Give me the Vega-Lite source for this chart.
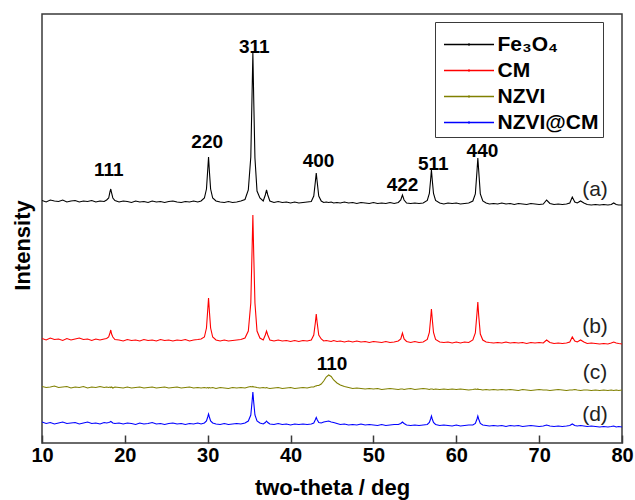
{
  "$schema": "https://vega.github.io/schema/vega-lite/v6.json",
  "width": 580,
  "height": 429,
  "autosize": {"type": "none"},
  "padding": {"left": 42, "top": 14, "right": 13, "bottom": 57},
  "background": "white",
  "config": {
    "view": {"stroke": "#3a3a3a", "strokeWidth": 1.5},
    "font": "Liberation Sans",
    "axis": {"grid": false}
  },
  "layer": [
    {
      "data": {"values": [
        {"x":10,"a":242.5,"b":104.5,"c":56.5,"d":21},
        {"x":10.5,"a":241,"b":103,"c":55.5,"d":19.5},
        {"x":11,"a":243,"b":105,"c":56,"d":20.5},
        {"x":11.5,"a":242,"b":103.5,"c":57,"d":19},
        {"x":12,"a":241.5,"b":104,"c":55.5,"d":20},
        {"x":12.5,"a":243,"b":102.5,"c":56,"d":21},
        {"x":13,"a":241,"b":104.5,"c":56.5,"d":19.5},
        {"x":13.5,"a":242,"b":103,"c":55,"d":20},
        {"x":14,"a":242.5,"b":104,"c":56,"d":20.5},
        {"x":14.5,"a":241,"b":105,"c":55.5,"d":19},
        {"x":15,"a":242,"b":103.5,"c":56.5,"d":20},
        {"x":15.5,"a":241.5,"b":104,"c":55,"d":21},
        {"x":16,"a":242.5,"b":102.5,"c":56,"d":19.5},
        {"x":16.5,"a":241,"b":104,"c":55.5,"d":20},
        {"x":17,"a":242,"b":103,"c":56.5,"d":19},
        {"x":17.5,"a":241.5,"b":104,"c":55.5,"d":20.5},
        {"x":17.8,"a":243,"b":104.5,"c":56,"d":20},
        {"x":18.05,"a":245,"b":106,"c":55.5,"d":20.5},
        {"x":18.2,"a":251,"b":110,"c":56,"d":21},
        {"x":18.3,"a":254,"b":113,"c":55.5,"d":21.5},
        {"x":18.4,"a":250,"b":109,"c":56,"d":21},
        {"x":18.55,"a":245,"b":106,"c":55,"d":20},
        {"x":18.8,"a":242.5,"b":103.5,"c":56,"d":19.5},
        {"x":19.3,"a":241,"b":103,"c":55.5,"d":20},
        {"x":19.8,"a":242,"b":102,"c":55,"d":19},
        {"x":20.3,"a":241.5,"b":103.5,"c":56,"d":20},
        {"x":20.8,"a":240.5,"b":102.5,"c":55,"d":19.5},
        {"x":21.3,"a":242,"b":103,"c":55.5,"d":18.5},
        {"x":21.8,"a":241,"b":102,"c":56,"d":20},
        {"x":22.3,"a":241.5,"b":103.5,"c":55,"d":19},
        {"x":22.8,"a":240.5,"b":102.5,"c":55.5,"d":19.5},
        {"x":23.3,"a":242,"b":103,"c":56,"d":20.5},
        {"x":23.8,"a":241,"b":102,"c":55,"d":19},
        {"x":24.3,"a":241.5,"b":103.5,"c":55.5,"d":19.5},
        {"x":24.8,"a":240.5,"b":102.5,"c":56,"d":18.5},
        {"x":25.3,"a":241.5,"b":103,"c":55,"d":19.5},
        {"x":25.8,"a":242,"b":102,"c":55.5,"d":20},
        {"x":26.3,"a":241,"b":103,"c":56,"d":19},
        {"x":26.8,"a":240.5,"b":102.5,"c":55,"d":19.5},
        {"x":27.3,"a":241.5,"b":103.5,"c":55.5,"d":18.5},
        {"x":27.8,"a":241,"b":102,"c":56,"d":19.5},
        {"x":28.3,"a":242,"b":103,"c":55,"d":19},
        {"x":28.8,"a":241,"b":103.5,"c":55.5,"d":20},
        {"x":29.2,"a":242,"b":104,"c":55,"d":19},
        {"x":29.6,"a":245,"b":106,"c":55.5,"d":20},
        {"x":29.85,"a":254,"b":115,"c":55,"d":22},
        {"x":30.0,"a":273,"b":133,"c":55.5,"d":26},
        {"x":30.1,"a":286,"b":145,"c":55,"d":29},
        {"x":30.2,"a":272,"b":132,"c":55.5,"d":26},
        {"x":30.35,"a":254,"b":115,"c":55,"d":22},
        {"x":30.6,"a":245,"b":106,"c":55.5,"d":20},
        {"x":31.0,"a":242,"b":103,"c":54.5,"d":19},
        {"x":31.5,"a":241,"b":102,"c":55.5,"d":18.5},
        {"x":32,"a":240.5,"b":103,"c":55,"d":19.5},
        {"x":32.5,"a":241.5,"b":102,"c":54.5,"d":18.5},
        {"x":33,"a":240.5,"b":102.5,"c":55.5,"d":19},
        {"x":33.5,"a":241,"b":103,"c":55,"d":19.5},
        {"x":34,"a":242,"b":103.5,"c":55.5,"d":19},
        {"x":34.5,"a":243.5,"b":105,"c":55,"d":20},
        {"x":34.9,"a":253,"b":112,"c":56,"d":22},
        {"x":35.2,"a":286,"b":140,"c":56.5,"d":28},
        {"x":35.35,"a":348,"b":192,"c":56,"d":41},
        {"x":35.45,"a":390,"b":228,"c":56.5,"d":51},
        {"x":35.55,"a":345,"b":190,"c":56,"d":41},
        {"x":35.7,"a":285,"b":140,"c":56,"d":28},
        {"x":35.95,"a":252,"b":112,"c":55.5,"d":22},
        {"x":36.3,"a":245,"b":105,"c":55,"d":20},
        {"x":36.7,"a":242,"b":103,"c":55.5,"d":19},
        {"x":36.95,"a":248,"b":108,"c":55,"d":20.5},
        {"x":37.1,"a":253,"b":112,"c":55.5,"d":22},
        {"x":37.25,"a":248,"b":108,"c":55,"d":20.5},
        {"x":37.5,"a":242,"b":103,"c":54.5,"d":19},
        {"x":38,"a":240.5,"b":102,"c":55,"d":18.5},
        {"x":38.5,"a":241.5,"b":103,"c":55.5,"d":19.5},
        {"x":39,"a":240.5,"b":102,"c":54.5,"d":18.5},
        {"x":39.5,"a":241,"b":102.5,"c":55,"d":19},
        {"x":40,"a":240,"b":101.5,"c":55.5,"d":18},
        {"x":40.5,"a":241,"b":102.5,"c":54.5,"d":19},
        {"x":41,"a":240,"b":101.5,"c":55,"d":18.5},
        {"x":41.5,"a":240.5,"b":102.5,"c":55.5,"d":19},
        {"x":42,"a":241,"b":102,"c":55,"d":18.5},
        {"x":42.5,"a":241.5,"b":103,"c":56,"d":19},
        {"x":42.8,"a":247,"b":108,"c":56,"d":20},
        {"x":43.0,"a":262,"b":121,"c":57,"d":23.5},
        {"x":43.1,"a":270,"b":129,"c":57,"d":25.5},
        {"x":43.2,"a":262,"b":121,"c":57.5,"d":23.5},
        {"x":43.4,"a":247,"b":108,"c":57.5,"d":20.5},
        {"x":43.7,"a":242,"b":104,"c":59,"d":20},
        {"x":44.0,"a":240.5,"b":102,"c":62,"d":21},
        {"x":44.3,"a":241,"b":102.5,"c":66,"d":21.5},
        {"x":44.6,"a":240.5,"b":102,"c":68,"d":22},
        {"x":44.9,"a":241,"b":101.5,"c":66.5,"d":21},
        {"x":45.2,"a":240,"b":102.5,"c":63,"d":20.5},
        {"x":45.6,"a":240.5,"b":101.5,"c":60,"d":19.5},
        {"x":46,"a":240,"b":102,"c":58,"d":18.5},
        {"x":46.5,"a":241,"b":101,"c":56.5,"d":19},
        {"x":47,"a":240,"b":102,"c":55.5,"d":18},
        {"x":47.5,"a":240.5,"b":101,"c":54.5,"d":18.5},
        {"x":48,"a":239.5,"b":102,"c":55,"d":18},
        {"x":48.5,"a":240.5,"b":101,"c":54.5,"d":19},
        {"x":49,"a":240,"b":101.5,"c":54,"d":18},
        {"x":49.5,"a":239.5,"b":100.5,"c":54.5,"d":18.5},
        {"x":50,"a":240.5,"b":101.5,"c":54,"d":18},
        {"x":50.5,"a":239.5,"b":101,"c":54.5,"d":17.5},
        {"x":51,"a":240,"b":100.5,"c":53.5,"d":18.5},
        {"x":51.5,"a":239.5,"b":101.5,"c":54,"d":17.5},
        {"x":52,"a":240.5,"b":100.5,"c":54.5,"d":18},
        {"x":52.5,"a":239.5,"b":101,"c":54,"d":18.5},
        {"x":53.0,"a":240.5,"b":102,"c":53.5,"d":18.5},
        {"x":53.3,"a":243,"b":104,"c":54,"d":19.5},
        {"x":53.5,"a":248,"b":110,"c":54,"d":21},
        {"x":53.7,"a":243,"b":104,"c":53.5,"d":19.5},
        {"x":54.0,"a":240,"b":101.5,"c":54,"d":18},
        {"x":54.5,"a":239.5,"b":100.5,"c":54.5,"d":17.5},
        {"x":55,"a":240,"b":101.5,"c":53.5,"d":18},
        {"x":55.5,"a":239.5,"b":100.5,"c":54,"d":17.5},
        {"x":56,"a":240,"b":101,"c":54.5,"d":18},
        {"x":56.5,"a":242.5,"b":103.5,"c":54,"d":18.5},
        {"x":56.75,"a":249.5,"b":110.5,"c":53.5,"d":20.5},
        {"x":56.9,"a":263,"b":124,"c":54,"d":24},
        {"x":57.0,"a":273,"b":134,"c":54,"d":27},
        {"x":57.1,"a":263,"b":124,"c":54,"d":24},
        {"x":57.25,"a":249.5,"b":110.5,"c":53.5,"d":20.5},
        {"x":57.5,"a":242.5,"b":103.5,"c":54,"d":18.5},
        {"x":58,"a":240,"b":101,"c":53.5,"d":17.5},
        {"x":58.5,"a":239,"b":100.5,"c":54,"d":18},
        {"x":59,"a":240,"b":101,"c":53.5,"d":17.5},
        {"x":59.5,"a":239.5,"b":100,"c":54,"d":17},
        {"x":60,"a":240,"b":101,"c":53.5,"d":18},
        {"x":60.5,"a":239,"b":100,"c":54,"d":17},
        {"x":61,"a":239.5,"b":101,"c":53.5,"d":17.5},
        {"x":61.5,"a":240,"b":100.5,"c":53,"d":18},
        {"x":62.0,"a":242,"b":103,"c":53.5,"d":18},
        {"x":62.3,"a":249,"b":110,"c":54,"d":19.5},
        {"x":62.5,"a":272,"b":130,"c":53.5,"d":24},
        {"x":62.6,"a":285,"b":141,"c":54,"d":27},
        {"x":62.7,"a":273,"b":128,"c":53.5,"d":24},
        {"x":62.9,"a":249,"b":109,"c":53.5,"d":19.5},
        {"x":63.2,"a":242,"b":103,"c":53,"d":18},
        {"x":63.6,"a":240,"b":101,"c":53.5,"d":17.5},
        {"x":64,"a":239,"b":100.5,"c":53,"d":17},
        {"x":64.5,"a":239.5,"b":100,"c":53.5,"d":17.5},
        {"x":65,"a":239,"b":100.5,"c":53,"d":17},
        {"x":65.5,"a":240,"b":100,"c":53.5,"d":17.5},
        {"x":66,"a":239,"b":101,"c":53,"d":16.5},
        {"x":66.5,"a":239.5,"b":100,"c":53.5,"d":17.5},
        {"x":67,"a":238.5,"b":100.5,"c":53,"d":17},
        {"x":67.5,"a":239.5,"b":100,"c":52.5,"d":17.5},
        {"x":68,"a":239,"b":100.5,"c":53.5,"d":16.5},
        {"x":68.5,"a":238.5,"b":99.5,"c":53,"d":17},
        {"x":69,"a":239.5,"b":100.5,"c":52.5,"d":17.5},
        {"x":69.5,"a":239,"b":100,"c":53,"d":17},
        {"x":70,"a":238.5,"b":100.5,"c":53.5,"d":16.5},
        {"x":70.5,"a":239,"b":100,"c":53,"d":17},
        {"x":70.9,"a":243,"b":103,"c":53,"d":18},
        {"x":71.3,"a":239.5,"b":100.5,"c":52.5,"d":17},
        {"x":71.8,"a":238.5,"b":99.5,"c":53,"d":16.5},
        {"x":72.3,"a":239,"b":100,"c":53.5,"d":17},
        {"x":72.8,"a":238.5,"b":99.5,"c":53,"d":16.5},
        {"x":73.3,"a":239,"b":100,"c":52.5,"d":17},
        {"x":73.7,"a":240,"b":101,"c":53,"d":17.5},
        {"x":74.0,"a":246,"b":106,"c":53,"d":19},
        {"x":74.3,"a":241,"b":102,"c":53.5,"d":17.5},
        {"x":74.6,"a":240,"b":101,"c":53,"d":17},
        {"x":75.0,"a":242,"b":103,"c":52.5,"d":17.5},
        {"x":75.4,"a":240,"b":101,"c":53,"d":17},
        {"x":75.8,"a":238.5,"b":99.5,"c":53,"d":16.5},
        {"x":76.3,"a":238,"b":100,"c":52.5,"d":17},
        {"x":76.8,"a":238.5,"b":99.5,"c":53,"d":16.5},
        {"x":77.3,"a":238,"b":99,"c":52.5,"d":16},
        {"x":77.8,"a":238.5,"b":99.5,"c":53,"d":16.5},
        {"x":78.3,"a":238,"b":99,"c":52.5,"d":16},
        {"x":78.7,"a":238.5,"b":100,"c":53,"d":16.5},
        {"x":79.0,"a":240,"b":101,"c":52.5,"d":17},
        {"x":79.3,"a":238.5,"b":100,"c":53,"d":16},
        {"x":79.6,"a":238,"b":99.5,"c":52.5,"d":16.5},
        {"x":80,"a":238,"b":99,"c":53,"d":16}
      ]},
      "transform": [{"fold": ["a", "b", "c", "d"], "as": ["series", "value"]}],
      "mark": {"type": "line", "strokeWidth": 1.1, "clip": true},
      "encoding": {
        "x": {
          "field": "x", "type": "quantitative",
          "scale": {"domain": [10, 80], "nice": false, "zero": false},
          "axis": {
            "values": [10, 20, 30, 40, 50, 60, 70, 80],
            "domain": false,
            "tickSize": -8, "tickWidth": 1.5, "tickColor": "#3a3a3a",
            "labelFont": "Liberation Sans", "labelFontSize": 20, "labelFontWeight": "bold", "labelColor": "#000",
            "labelPadding": 10, "labelFlush": false,
            "title": "two-theta / deg",
            "titleFont": "Liberation Sans", "titleFontSize": 22, "titleFontWeight": "bold", "titleColor": "#000",
            "titleBaseline": "alphabetic", "titleY": 51
          }
        },
        "y": {
          "field": "value", "type": "quantitative",
          "scale": {"domain": [0, 429], "nice": false, "zero": false},
          "axis": {
            "domain": false, "ticks": false, "labels": false,
            "title": "Intensity",
            "titleFont": "Liberation Sans", "titleFontSize": 22, "titleFontWeight": "bold", "titleColor": "#000",
            "titleBaseline": "alphabetic", "titleX": -13, "titleY": 231
          }
        },
        "color": {
          "field": "series", "type": "nominal",
          "scale": {"domain": ["a", "b", "c", "d"], "range": ["#000000", "#ff0000", "#808000", "#0000ff"]},
          "legend": {
            "orient": "none", "legendX": 393, "legendY": 8,
            "title": " ", "titleFontSize": 8, "titlePadding": 0,
            "labelExpr": "{'a':'Fe₃O₄','b':'CM','c':'NZVI','d':'NZVI@CM'}[datum.label]",
            "labelFont": "Liberation Sans", "labelFontSize": 21, "labelFontWeight": "bold", "labelColor": "#000",
            "symbolType": "M-5,0H5M0,-0.25V0.25", "symbolSize": 100, "symbolStrokeWidth": 1.3,
            "symbolOffset": 19.5, "labelOffset": 18,
            "strokeColor": "#3a3a3a", "padding": 4, "rowPadding": 4
          }
        }
      }
    },
    {
      "data": {"values": [
        {"x": 18.05, "y": 267, "t": "111"},
        {"x": 29.94, "y": 295, "t": "220"},
        {"x": 35.62, "y": 390, "t": "311"},
        {"x": 43.37, "y": 276, "t": "400"},
        {"x": 53.51, "y": 252, "t": "422"},
        {"x": 57.23, "y": 273, "t": "511"},
        {"x": 63.16, "y": 286, "t": "440"},
        {"x": 45.0, "y": 73, "t": "110"}
      ]},
      "mark": {"type": "text", "font": "Liberation Sans", "fontSize": 19, "fontWeight": "bold", "color": "#000", "align": "center", "baseline": "alphabetic"},
      "encoding": {
        "x": {"field": "x", "type": "quantitative"},
        "y": {"field": "y", "type": "quantitative"},
        "text": {"field": "t"}
      }
    },
    {
      "data": {"values": [
        {"x": 76.74, "y": 247, "t": "(a)"},
        {"x": 76.74, "y": 110, "t": "(b)"},
        {"x": 76.74, "y": 64, "t": "(c)"},
        {"x": 76.74, "y": 22, "t": "(d)"}
      ]},
      "mark": {"type": "text", "font": "Liberation Sans", "fontSize": 21, "color": "#222", "align": "center", "baseline": "alphabetic"},
      "encoding": {
        "x": {"field": "x", "type": "quantitative"},
        "y": {"field": "y", "type": "quantitative"},
        "text": {"field": "t"}
      }
    }
  ]
}
